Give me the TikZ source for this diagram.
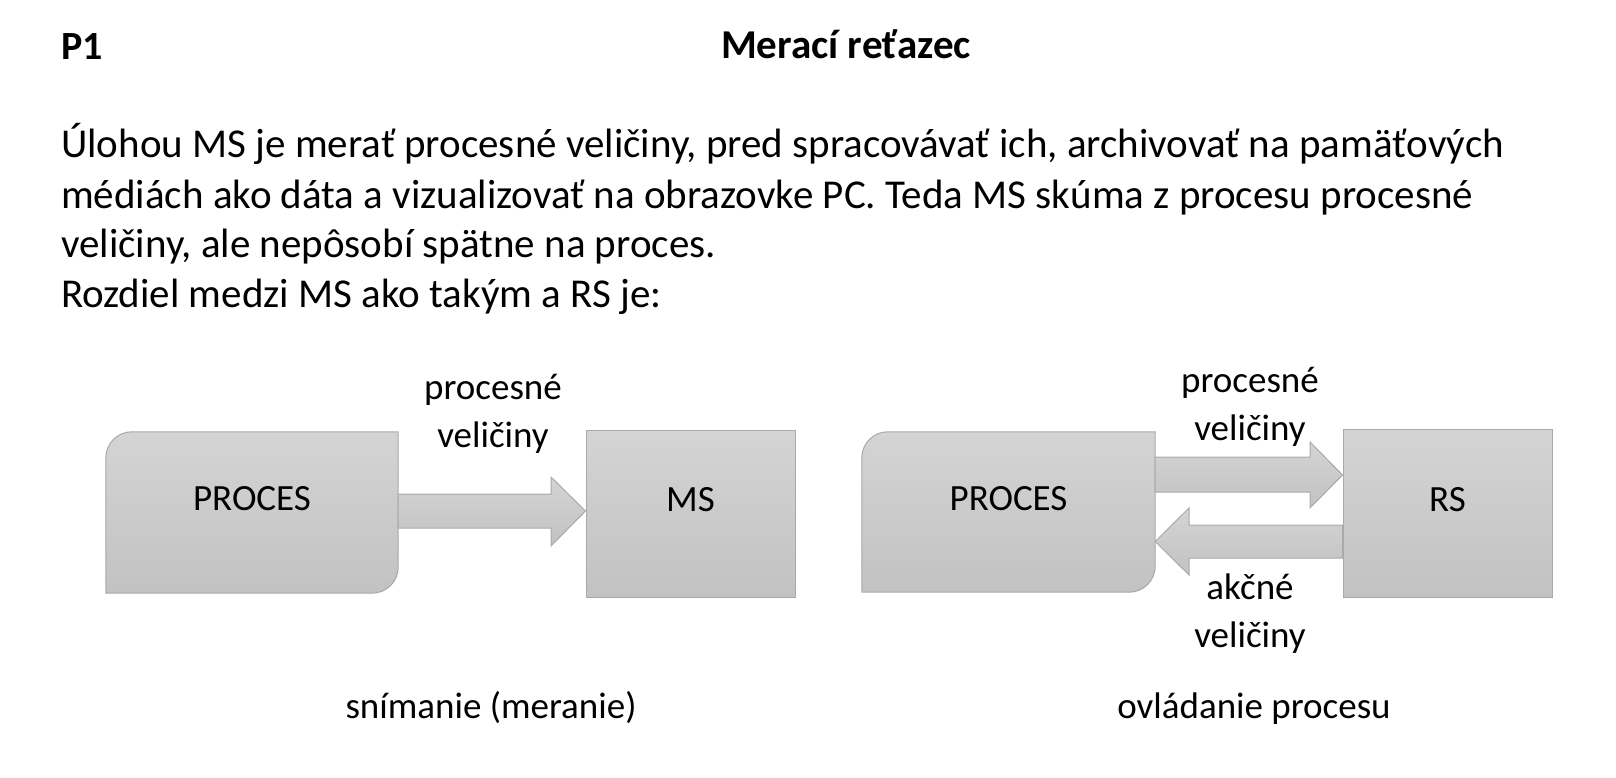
\documentclass[tikz,border=0pt]{standalone}
\usepackage{fontspec}
\setmainfont{Carlito}
\usetikzlibrary{calc,backgrounds}
\definecolor{boxtop}{HTML}{D4D4D4}
\definecolor{boxbot}{HTML}{C2C2C2}
\definecolor{boxline}{HTML}{A9A9A9}
\tikzset{
  bodytxt/.style={font=\fontsize{41}{50}\selectfont,anchor=base west,inner sep=0},
  lbl/.style={font=\fontsize{37}{48}\selectfont,align=center,anchor=base,inner sep=0},
  shade box/.style={draw=boxline,line width=1,top color=boxtop,bottom color=boxbot},
  boxtxt/.style={font=\fontsize{37}{44}\selectfont,text depth=28,inner sep=0},
  blok/.style={boxtxt,shade box},
  sipka/.style={shade box,line join=miter}
}
\begin{document}
\begin{tikzpicture}[x=1pt,y=1pt]
\useasboundingbox (0,0) rectangle (1616,-778);
% nadpis a text
\node[bodytxt,font=\fontsize{40}{50}\selectfont\bfseries] (p1) at (61,-60) {P1};
\node[anchor=base,inner sep=0,font=\fontsize{41}{50}\selectfont\bfseries] (nadpis) at (846,-59) {Merací reťazec};
\node[bodytxt] (r1) at (61,-158) {Úlohou MS je merať procesné veličiny, pred spracovávať ich, archivovať na pamäťových};
\node[bodytxt] (r2) at (61,-208) {médiách ako dáta a vizualizovať na obrazovke PC. Teda MS skúma z procesu procesné};
\node[bodytxt] (r3) at (61,-257) {veličiny, ale nepôsobí spätne na proces.};
\node[bodytxt] (r4) at (61,-307) {Rozdiel medzi MS ako takým a RS je:};
% snimanie
\node[boxtxt,minimum width=292,minimum height=161] (procL) at (252,-512.5) {PROCES};
\begin{scope}[on background layer]
\draw[shade box] (procL.north east) -- ($(procL.south east)+(0,26)$) arc[start angle=0,end angle=-90,radius=26] -- (procL.south west) -- ($(procL.north west)+(0,-26)$) arc[start angle=180,end angle=90,radius=26] -- cycle;
\end{scope}
\node[blok,minimum width=209,minimum height=167] (msL) at (690.5,-513.5) {MS};
\draw[sipka] (procL.east |- 0,-494) -- (551,-494) -- (551,-477) -- (msL.west |- 0,-511) -- (551,-546) -- (551,-528) -- (procL.east |- 0,-528) -- cycle;
\node[lbl] (pvL) at (493,-447) {procesné\\veličiny};
\node[lbl] (snim) at (491,-718) {snímanie (meranie)};
% ovladanie
\node[boxtxt,minimum width=293,minimum height=160] (procR) at (1008.5,-512) {PROCES};
\begin{scope}[on background layer]
\draw[shade box] (procR.north east) -- ($(procR.south east)+(0,26)$) arc[start angle=0,end angle=-90,radius=26] -- (procR.south west) -- ($(procR.north west)+(0,-26)$) arc[start angle=180,end angle=90,radius=26] -- cycle;
\end{scope}
\node[blok,minimum width=209,minimum height=168] (rs) at (1447.5,-513) {RS};
\draw[sipka] (procR.east |- 0,-457) -- (1310,-457) -- (1310,-442) -- (rs.west |- 0,-475) -- (1310,-508) -- (1310,-492) -- (procR.east |- 0,-492) -- cycle;
\draw[sipka] (rs.west |- 0,-525) -- (1189,-525) -- (1189,-508) -- (procR.east |- 0,-541.5) -- (1189,-575) -- (1189,-558) -- (rs.west |- 0,-558) -- cycle;
\node[lbl] (pvR) at (1250,-440) {procesné\\veličiny};
\node[lbl] (av) at (1250,-647) {akčné\\veličiny};
\node[lbl] (ovl) at (1254,-718) {ovládanie procesu};
\end{tikzpicture}
\end{document}
